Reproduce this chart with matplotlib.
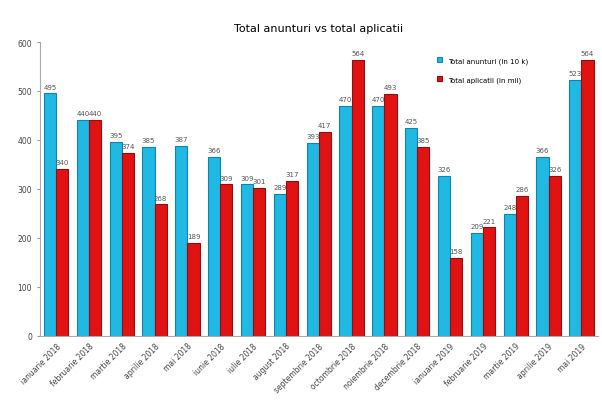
import numpy as np
import matplotlib
matplotlib.use("Agg")
import matplotlib.pyplot as plt

# date
luni = ["ianuarie 2018", "februarie 2018", "martie 2018", "aprilie 2018", "mai 2018",
        "iunie 2018", "iulie 2018", "august 2018", "septembrie 2018", "octombrie 2018",
        "noiembrie 2018", "decembrie 2018", "ianuarie 2019", "februarie 2019",
        "martie 2019", "aprilie 2019", "mai 2019"]
anunturi = [495, 440, 395, 385, 387, 366, 309, 289, 393, 470, 470, 425, 326, 209, 248, 366, 523]
aplicatii = [340, 440, 374, 268, 189, 309, 301, 317, 417, 564, 493, 385, 158, 221, 286, 326, 564]

fig = plt.figure(figsize=(6.02, 4.10), dpi=100)
ax = fig.add_axes([0.066, 0.179, 0.927, 0.716])

x = np.arange(len(luni))
w = 0.37
b1 = ax.bar(x - w / 2, anunturi, w, color="#1fb9e4", edgecolor="#1583a8", linewidth=0.8,
            label="Total anunturi (in 10 k)")
b2 = ax.bar(x + w / 2, aplicatii, w, color="#e01212", edgecolor="#8e0f14", linewidth=0.8,
            label="Total aplicatii (in mii)")

for bars in (b1, b2):
    for b in bars:
        ax.text(b.get_x() + b.get_width() / 2, b.get_height() + 8, f"{int(b.get_height())}",
                ha="center", va="bottom", fontsize=5, color="#555555")

ax.set_xlim(-0.5, len(luni) - 0.5)
ax.set_ylim(0, 600)
ax.set_yticks(range(0, 601, 100))
ax.set_xticks(x)
ax.set_xticklabels(luni, rotation=45, ha="right", rotation_mode="anchor", fontsize=5.5, color="#444444")
ax.tick_params(axis="y", labelsize=5.5, labelcolor="#444444", length=2, color="#999999")
ax.tick_params(axis="x", length=0, pad=4)
for s in ("top", "right"):
    ax.spines[s].set_visible(False)
for s in ("left", "bottom"):
    ax.spines[s].set_color("#aaaaaa")

ax.set_title("Total anunturi vs total aplicatii", fontsize=8, pad=8)
ax.legend(loc="upper left", bbox_to_anchor=(0.7, 0.97), frameon=False, fontsize=5,
          labelspacing=1.8, handlelength=0.8, handleheight=0.8)

fig.savefig("out.png", dpi=100)
